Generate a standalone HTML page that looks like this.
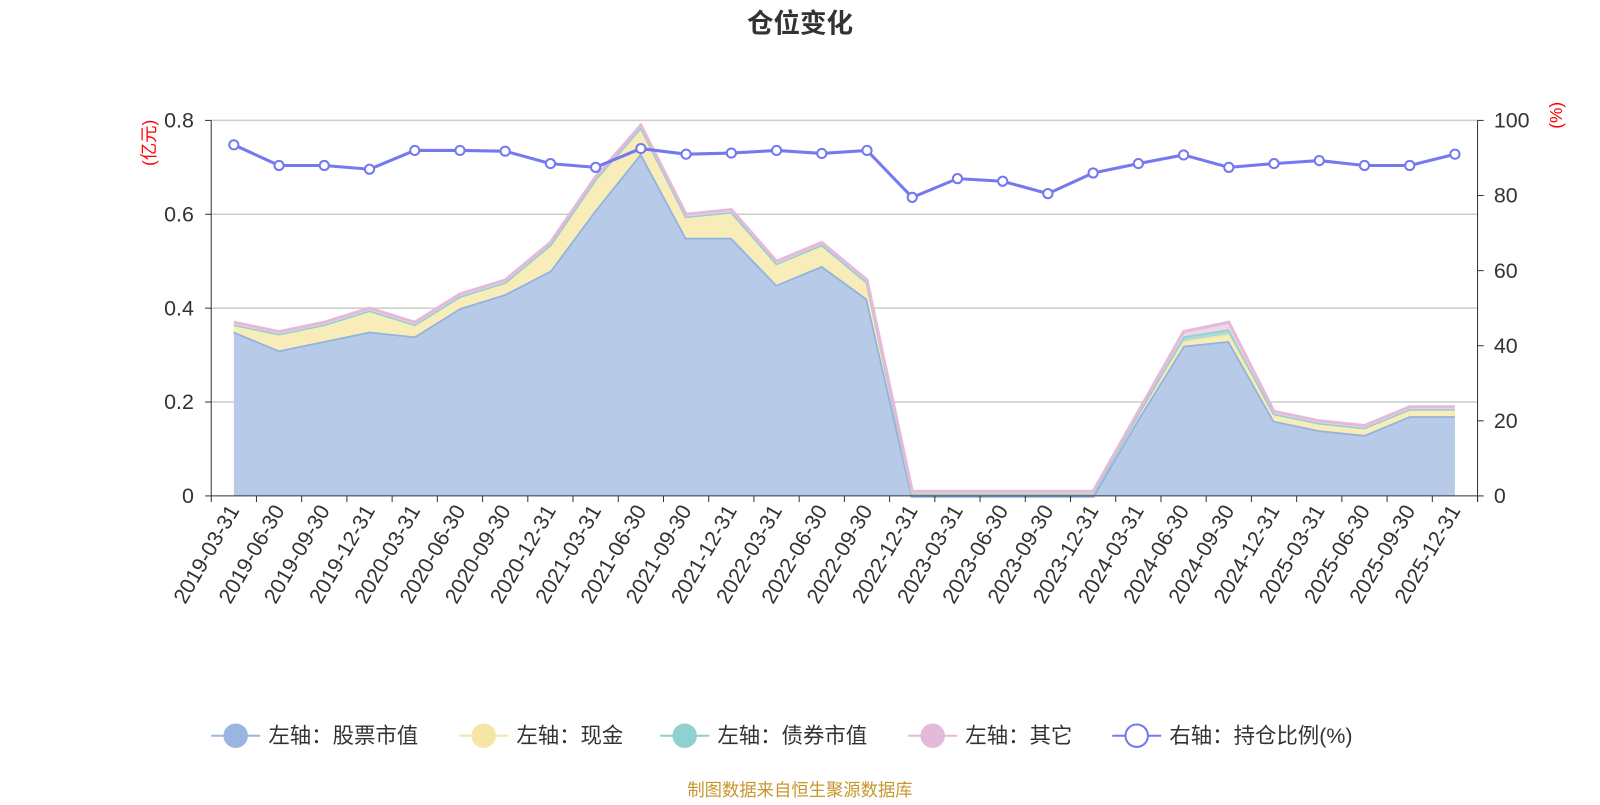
<!DOCTYPE html>
<html><head><meta charset="utf-8"><style>
body{margin:0;background:#fff;width:1600px;height:800px;overflow:hidden;font-family:"Liberation Sans","Noto Sans CJK SC",sans-serif;}
svg text{font-family:"Liberation Sans","Noto Sans CJK SC",sans-serif;}
</style></head><body>
<svg id="c" width="1600" height="800" viewBox="0 0 1568 784"></svg>
<script>
const categories=["2019-03-31","2019-06-30","2019-09-30","2019-12-31","2020-03-31","2020-06-30","2020-09-30","2020-12-31","2021-03-31","2021-06-30","2021-09-30","2021-12-31","2022-03-31","2022-06-30","2022-09-30","2022-12-31","2023-03-31","2023-06-30","2023-09-30","2023-12-31","2024-03-31","2024-06-30","2024-09-30","2024-12-31","2025-03-31","2025-06-30","2025-09-30","2025-12-31"];
const stockValues=[0.35,0.31,0.33,0.35,0.34,0.40,0.43,0.48,0.61,0.73,0.55,0.55,0.45,0.49,0.42,0,0,0,0,0,0.165,0.32,0.33,0.16,0.14,0.13,0.17,0.17];
const cashValues=[0.015,0.035,0.035,0.045,0.025,0.025,0.025,0.055,0.065,0.055,0.045,0.055,0.045,0.045,0.035,0.005,0.005,0.005,0.005,0.005,0.01,0.01,0.015,0.015,0.015,0.015,0.015,0.015];
const bondValues=[0,0,0,0,0,0,0,0,0,0,0,0,0,0,0,0,0,0,0,0,0,0.01,0.01,0,0,0,0,0];
const otherValues=[0.005,0.005,0.005,0.005,0.005,0.005,0.005,0.005,0.005,0.005,0.005,0.005,0.005,0.005,0.005,0.005,0.005,0.005,0.005,0.005,0.005,0.01,0.015,0.005,0.005,0.005,0.005,0.005];
const ratioValues=[93.5,88,88,87,92,92,91.8,88.5,87.5,92.5,91,91.3,92,91.2,92,79.5,84.5,83.8,80.5,86,88.5,90.8,87.5,88.5,89.3,88,88,91];
const leftTicks=[0,0.2,0.4,0.6,0.8];
const rightTicks=[0,20,40,60,80,100];

const NS="http://www.w3.org/2000/svg",svg=document.getElementById('c');
function el(t,a,p){const e=document.createElementNS(NS,t);for(const k in a)e.setAttribute(k,a[k]);(p||svg).appendChild(e);return e;}
const L=207,R=1448,T=118,B=486,bw=(R-L)/categories.length;
const x=i=>L+bw*(i+0.5), yl=v=>B-(v/0.8)*(B-T), yr=v=>B-(v/100)*(B-T);

let t=el('text',{x:784,y:32,'text-anchor':'middle','font-size':26,'font-weight':'bold',fill:'#333'});t.textContent='仓位变化';



leftTicks.forEach(v=>{
 if(v>0){const g=el('line',{x1:L,x2:R,y1:yl(v),y2:yl(v),stroke:'#ccc','stroke-width':1.5});}
 const tx=el('text',{x:190,y:yl(v)+7,'text-anchor':'end','font-size':21,fill:'#333'});tx.textContent=v===0?'0':v.toFixed(1);
 
 
 el('line',{x1:201,x2:L,y1:yl(v),y2:yl(v),stroke:'#333'});
});
rightTicks.forEach(v=>{
 const tx=el('text',{x:1464,y:yr(v)+7,'font-size':21,fill:'#333'});tx.textContent=v;
 
 
 el('line',{x1:R,x2:R+6,y1:yr(v),y2:yr(v),stroke:'#333'});
});
let u=el('text',{transform:'translate(152,140) rotate(-90)','text-anchor':'middle','font-size':17,fill:'red'});u.textContent='(亿元)';


u=el('text',{transform:'translate(1531,113) rotate(-90)','text-anchor':'middle','font-size':17,fill:'red'});u.textContent='(%)';



const series=[[stockValues,'#b7cbe9','#93b2df','stock',3.5],[cashValues,'#f8ecb9','#f6e6a6','cash',3],[bondValues,'#a9dcdc','#8fd0d0','bond',3],[otherValues,'#f0d4e8','#e5b9da','other',3]];
let base=categories.map(()=>0);
series.forEach(([vals,fill,stroke,nm,sw])=>{
 const top=base.map((b,i)=>b+vals[i]);
 let d='M'+top.map((v,i)=>x(i)+','+yl(v)).join('L')+'L'+base.map((v,i)=>[i,v]).reverse().map(([i,v])=>x(i)+','+yl(v)).join('L')+'Z';
 const a=el('path',{d,fill,stroke:'none'});
 
 
 const ln=el('path',{d:'M'+top.map((v,i)=>x(i)+','+yl(v)).join('L'),fill:'none',stroke,'stroke-width':sw});
 
 
 base=top;
});

el('line',{x1:L,x2:L,y1:T,y2:B,stroke:'#333'});
el('line',{x1:R,x2:R,y1:T,y2:B+6,stroke:'#333'});
el('line',{x1:L,x2:R,y1:B,y2:B,stroke:'#333'});
for(let i=0;i<=categories.length;i++)el('line',{x1:L+bw*i,x2:L+bw*i,y1:B,y2:B+6,stroke:'#333'});
categories.forEach((c,i)=>{
 const tx=el('text',{transform:`translate(${x(i)+6},${B+14}) rotate(-60)`,'text-anchor':'end','font-size':21,fill:'#333'});tx.textContent=c;
 
 
});

const rl=el('path',{d:'M'+ratioValues.map((v,i)=>x(i)+','+yr(v)).join('L'),fill:'none',stroke:'#7479f0','stroke-width':3});


ratioValues.forEach((v,i)=>{
 const p=el('circle',{cx:x(i),cy:yr(v),r:4.5,fill:'#fff',stroke:'#7479f0','stroke-width':2});
 
 
});

const leg=[['左轴：股票市值','#9ab5e0',true,207],['左轴：现金','#f6e6a6',true,450],['左轴：债券市值','#8fd0d0',true,647],['左轴：其它','#e5b9da',true,890],['右轴：持仓比例(%)','#7479f0',false,1090]];
leg.forEach(([txt,col,filled,lx])=>{
 const g=el('g',{});
 
 
 el('line',{x1:lx,x2:lx+48,y1:721,y2:721,stroke:col,'stroke-width':2},g);
 el('circle',{cx:lx+24,cy:721,r:11,fill:filled?col:'#fff',stroke:col,'stroke-width':2},g);
 const tt=el('text',{x:lx+56,y:728,'font-size':21,fill:'#333'},g);tt.textContent=txt;
});
const f=el('text',{x:784,y:780,'text-anchor':'middle','font-size':17,fill:'#c8962e'});f.textContent='制图数据来自恒生聚源数据库';


</script>
</body></html>
